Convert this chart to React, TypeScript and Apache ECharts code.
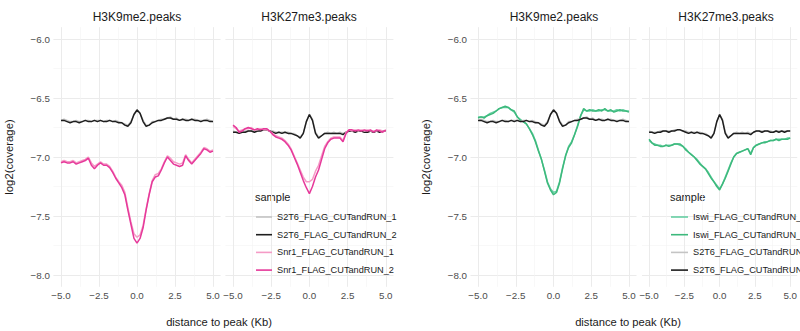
import React, { useEffect, useRef } from "react";
import * as echarts from "echarts";

// distance to peak (Kb)
const DIST = [
  -5.0, -4.8, -4.6, -4.4, -4.2, -4.0, -3.8, -3.6, -3.4, -3.2,
  -3.0, -2.8, -2.6, -2.4, -2.2, -2.0, -1.8, -1.6, -1.4, -1.2,
  -1.0, -0.8, -0.6, -0.4, -0.2, 0.0, 0.2, 0.4, 0.6, 0.8,
  1.0, 1.2, 1.4, 1.6, 1.8, 2.0, 2.2, 2.4, 2.6, 2.8,
  3.0, 3.2, 3.4, 3.6, 3.8, 4.0, 4.2, 4.4, 4.6, 4.8, 5.0,
];

const X_MAJOR = [-5, -2.5, 0, 2.5, 5];
const X_MINOR = [-3.75, -1.25, 1.25, 3.75];
const Y_MAJOR = [-8, -7.5, -7, -6.5, -6];
const Y_MINOR = [-7.75, -7.25, -6.75, -6.25];

const FACETS = ["H3K9me2.peaks", "H3K27me3.peaks"];

// S2T6 control, H3K9me2 peaks
const S2T6_K9_1 = [
  -6.69, -6.68, -6.69, -6.70, -6.70, -6.69, -6.70, -6.70, -6.69, -6.69,
  -6.70, -6.69, -6.69, -6.69, -6.70, -6.69, -6.69, -6.70, -6.69, -6.70,
  -6.71, -6.72, -6.73, -6.70, -6.64, -6.61, -6.63, -6.69, -6.73, -6.73,
  -6.70, -6.70, -6.69, -6.68, -6.68, -6.67, -6.66, -6.68, -6.67, -6.69,
  -6.68, -6.68, -6.69, -6.68, -6.68, -6.69, -6.69, -6.69, -6.68, -6.69, -6.70,
];
const S2T6_K9_2 = [
  -6.69, -6.69, -6.70, -6.71, -6.70, -6.70, -6.71, -6.70, -6.69, -6.70,
  -6.70, -6.69, -6.70, -6.69, -6.70, -6.70, -6.69, -6.70, -6.70, -6.71,
  -6.71, -6.73, -6.74, -6.71, -6.64, -6.60, -6.63, -6.70, -6.74, -6.73,
  -6.71, -6.70, -6.69, -6.69, -6.68, -6.67, -6.67, -6.68, -6.68, -6.69,
  -6.68, -6.69, -6.69, -6.68, -6.69, -6.69, -6.70, -6.69, -6.69, -6.70, -6.70,
];
// S2T6 control, H3K27me3 peaks
const S2T6_K27_1 = [
  -6.78, -6.79, -6.79, -6.79, -6.78, -6.78, -6.78, -6.78, -6.78, -6.77,
  -6.77, -6.77, -6.78, -6.78, -6.79, -6.79, -6.79, -6.79, -6.79, -6.80,
  -6.80, -6.82, -6.83, -6.80, -6.70, -6.64, -6.68, -6.79, -6.83, -6.82,
  -6.80, -6.79, -6.80, -6.79, -6.80, -6.79, -6.80, -6.79, -6.78, -6.78,
  -6.78, -6.78, -6.78, -6.78, -6.79, -6.78, -6.78, -6.78, -6.78, -6.78, -6.78,
];
const S2T6_K27_2 = [
  -6.79, -6.79, -6.80, -6.79, -6.79, -6.78, -6.78, -6.79, -6.78, -6.78,
  -6.77, -6.77, -6.78, -6.79, -6.80, -6.79, -6.80, -6.79, -6.80, -6.80,
  -6.81, -6.82, -6.84, -6.80, -6.70, -6.64, -6.69, -6.80, -6.84, -6.82,
  -6.80, -6.80, -6.80, -6.80, -6.80, -6.80, -6.81, -6.79, -6.78, -6.78,
  -6.79, -6.78, -6.78, -6.79, -6.79, -6.78, -6.79, -6.78, -6.79, -6.78, -6.78,
];
// Snr1
const SNR1_K9_1 = [
  -7.04, -7.03, -7.04, -7.04, -7.03, -7.05, -7.04, -7.03, -7.02, -7.00,
  -7.05, -7.08, -7.06, -7.04, -7.06, -7.06, -7.08, -7.12, -7.17, -7.21,
  -7.24, -7.30, -7.43, -7.55, -7.65, -7.68, -7.66, -7.58, -7.44, -7.31,
  -7.20, -7.15, -7.14, -7.10, -7.04, -6.99, -7.01, -7.04, -7.05, -7.06,
  -7.05, -6.98, -7.02, -7.05, -7.02, -6.99, -6.96, -6.92, -6.93, -6.95, -6.94,
];
const SNR1_K9_2 = [
  -7.05, -7.04, -7.05, -7.05, -7.04, -7.06, -7.05, -7.04, -7.03, -7.01,
  -7.07, -7.10, -7.07, -7.05, -7.07, -7.07, -7.09, -7.13, -7.18, -7.22,
  -7.26, -7.32, -7.45, -7.57, -7.69, -7.73, -7.69, -7.60, -7.45, -7.32,
  -7.21, -7.17, -7.16, -7.11, -7.05, -7.00, -7.03, -7.06, -7.07, -7.08,
  -7.07, -6.99, -7.03, -7.06, -7.03, -7.00, -6.97, -6.93, -6.94, -6.96, -6.95,
];
const SNR1_K27_1 = [
  -6.74, -6.76, -6.78, -6.77, -6.76, -6.76, -6.75, -6.77, -6.77, -6.76,
  -6.77, -6.77, -6.78, -6.80, -6.82, -6.83, -6.84, -6.86, -6.89, -6.93,
  -6.99, -7.05, -7.11, -7.17, -7.21, -7.21, -7.19, -7.12, -7.07, -6.99,
  -6.91, -6.87, -6.84, -6.83, -6.83, -6.83, -6.86, -6.79, -6.77, -6.78,
  -6.77, -6.78, -6.77, -6.78, -6.77, -6.78, -6.78, -6.78, -6.77, -6.78, -6.78,
];
const SNR1_K27_2 = [
  -6.73, -6.75, -6.79, -6.78, -6.76, -6.75, -6.76, -6.77, -6.76, -6.77,
  -6.76, -6.76, -6.78, -6.81, -6.83, -6.84, -6.85, -6.87, -6.90, -6.94,
  -7.00, -7.06, -7.13, -7.20, -7.26, -7.31, -7.25, -7.17, -7.11, -7.02,
  -6.93, -6.88, -6.85, -6.84, -6.84, -6.84, -6.87, -6.80, -6.77, -6.77,
  -6.78, -6.77, -6.78, -6.77, -6.78, -6.77, -6.79, -6.77, -6.78, -6.79, -6.77,
];
// Iswi
const ISWI_K9_1 = [
  -6.66, -6.66, -6.66, -6.65, -6.63, -6.62, -6.61, -6.59, -6.58, -6.58,
  -6.58, -6.60, -6.62, -6.66, -6.68, -6.70, -6.72, -6.76, -6.80, -6.86,
  -6.94, -7.02, -7.11, -7.21, -7.27, -7.30, -7.29, -7.21, -7.09, -6.99,
  -6.91, -6.87, -6.81, -6.73, -6.65, -6.60, -6.61, -6.61, -6.60, -6.61,
  -6.61, -6.60, -6.60, -6.61, -6.61, -6.61, -6.60, -6.61, -6.60, -6.61, -6.61,
];
const ISWI_K9_2 = [
  -6.67, -6.66, -6.67, -6.65, -6.64, -6.63, -6.61, -6.59, -6.58, -6.57,
  -6.58, -6.60, -6.61, -6.66, -6.69, -6.70, -6.72, -6.76, -6.81, -6.87,
  -6.95, -7.02, -7.12, -7.22, -7.28, -7.32, -7.30, -7.22, -7.10, -6.99,
  -6.92, -6.88, -6.81, -6.74, -6.65, -6.59, -6.61, -6.60, -6.61, -6.61,
  -6.60, -6.61, -6.59, -6.61, -6.60, -6.62, -6.61, -6.60, -6.61, -6.61, -6.62,
];
const ISWI_K27_1 = [
  -6.86, -6.88, -6.89, -6.90, -6.90, -6.91, -6.90, -6.90, -6.90, -6.89,
  -6.89, -6.90, -6.91, -6.93, -6.96, -6.98, -7.00, -7.02, -7.05, -7.08,
  -7.10, -7.13, -7.17, -7.21, -7.24, -7.27, -7.23, -7.17, -7.11, -7.05,
  -7.00, -6.97, -6.96, -6.95, -6.94, -6.93, -6.97, -6.92, -6.90, -6.89,
  -6.88, -6.87, -6.87, -6.86, -6.86, -6.85, -6.85, -6.85, -6.85, -6.84, -6.84,
];
const ISWI_K27_2 = [
  -6.85, -6.88, -6.90, -6.90, -6.91, -6.91, -6.90, -6.91, -6.90, -6.89,
  -6.89, -6.89, -6.91, -6.94, -6.96, -6.98, -7.00, -7.03, -7.06, -7.08,
  -7.10, -7.14, -7.18, -7.21, -7.25, -7.28, -7.23, -7.18, -7.12, -7.06,
  -7.00, -6.97, -6.96, -6.95, -6.94, -6.93, -6.98, -6.92, -6.90, -6.89,
  -6.88, -6.88, -6.87, -6.86, -6.86, -6.85, -6.86, -6.85, -6.85, -6.85, -6.84,
];

const N_S2T6_1 = "S2T6_FLAG_CUTandRUN_1";
const N_S2T6_2 = "S2T6_FLAG_CUTandRUN_2";
const N_SNR1_1 = "Snr1_FLAG_CUTandRUN_1";
const N_SNR1_2 = "Snr1_FLAG_CUTandRUN_2";
const N_ISWI_1 = "Iswi_FLAG_CUTandRUN_1";
const N_ISWI_2 = "Iswi_FLAG_CUTandRUN_2";

const COLORS: Record<string, string> = {
  [N_S2T6_1]: "#C4C4C4",
  [N_S2T6_2]: "#1E1E1E",
  [N_SNR1_1]: "#F59BC6",
  [N_SNR1_2]: "#E6399A",
  [N_ISWI_1]: "#66CFA3",
  [N_ISWI_2]: "#3DB97C",
};

// panels: grid index -> list of [name, values]
const PANEL_SERIES: [string, number[]][][] = [
  [[N_S2T6_1, S2T6_K9_1], [N_S2T6_2, S2T6_K9_2], [N_SNR1_1, SNR1_K9_1], [N_SNR1_2, SNR1_K9_2]],
  [[N_S2T6_1, S2T6_K27_1], [N_S2T6_2, S2T6_K27_2], [N_SNR1_1, SNR1_K27_1], [N_SNR1_2, SNR1_K27_2]],
  [[N_ISWI_1, ISWI_K9_1], [N_ISWI_2, ISWI_K9_2], [N_S2T6_1, S2T6_K9_1], [N_S2T6_2, S2T6_K9_2]],
  [[N_ISWI_1, ISWI_K27_1], [N_ISWI_2, ISWI_K27_2], [N_S2T6_1, S2T6_K27_1], [N_S2T6_2, S2T6_K27_2]],
];

const FONT = "'Liberation Sans', Arial, Helvetica, sans-serif";
const fmt = (v: number) => v.toFixed(1).replace("-", "\u2212");

export default function App() {
  const ref = useRef<HTMLDivElement>(null);
  useEffect(() => {
    if (!ref.current) return;
    const chart = echarts.init(ref.current, null, { renderer: "svg" });
    const grids = [
      { left: 53.4, top: 27.2, width: 167.2, height: 259.6 },
      { left: 225.4, top: 27.2, width: 168, height: 259.6 },
      { left: 470.5, top: 27.2, width: 166, height: 259.6 },
      { left: 642, top: 27.2, width: 168, height: 259.6 },
    ];
    const xAxis: any[] = [];
    const yAxis: any[] = [];
    grids.forEach((_, g) => {
      xAxis.push({
        type: "value", gridIndex: g, min: -5.5, max: 5.5,
        axisLine: { show: false },
        axisTick: { show: false, customValues: X_MAJOR },
        axisLabel: { customValues: X_MAJOR, formatter: fmt, margin: 4, color: "#4D4D4D", fontSize: 9.8, fontFamily: FONT },
        splitLine: { show: true, lineStyle: { color: "#EBEBEB", width: 1 } },
      });
      xAxis.push({
        type: "value", gridIndex: g, min: -5.5, max: 5.5,
        axisLine: { show: false },
        axisTick: { show: false, customValues: X_MINOR },
        axisLabel: { show: false, customValues: X_MINOR },
        splitLine: { show: true, lineStyle: { color: "#F4F4F4", width: 0.6 } },
      });
      const first = g === 0 || g === 2;
      yAxis.push({
        type: "value", gridIndex: g, min: -8.1, max: -5.9,
        axisLine: { show: false },
        axisTick: { show: false, customValues: Y_MAJOR },
        axisLabel: { show: first, customValues: Y_MAJOR, formatter: fmt, margin: 3.5, color: "#4D4D4D", fontSize: 9.8, fontFamily: FONT },
        splitLine: { show: true, lineStyle: { color: "#EBEBEB", width: 1 } },
        name: first ? "log2(coverage)" : "",
        nameLocation: "middle", nameGap: 39, nameRotate: 90,
        nameTextStyle: { fontSize: 11.3, color: "#1A1A1A", fontFamily: FONT },
      });
      yAxis.push({
        type: "value", gridIndex: g, min: -8.1, max: -5.9,
        axisLine: { show: false },
        axisTick: { show: false, customValues: Y_MINOR },
        axisLabel: { show: false, customValues: Y_MINOR },
        splitLine: { show: true, lineStyle: { color: "#F4F4F4", width: 0.6 } },
      });
    });
    const series: any[] = [];
    PANEL_SERIES.forEach((list, g) => {
      list.forEach(([name, vals]) => {
        series.push({
          type: "line", name, xAxisIndex: 2 * g, yAxisIndex: 2 * g,
          data: DIST.map((d, i) => [d, vals[i]]),
          showSymbol: false, symbol: "none",
          itemStyle: { color: COLORS[name] },
          lineStyle: { color: COLORS[name], width: 1.5 },
          z: 3,
        });
      });
    });
    const legendBase = {
      orient: "vertical", padding: 0, itemWidth: 16, itemHeight: 1.6, itemGap: 5.7,
      icon: "rect", selectedMode: false,
      textStyle: { fontSize: 9.2, color: "#1A1A1A", fontFamily: FONT, lineHeight: 12 },
    };
    const text = (t: string, x: number, y: number, size: number, align = "center", rot = 0) => ({
      type: "text", x, y, rotation: rot,
      style: { text: t, fontSize: size, fontFamily: FONT, fill: "#1A1A1A", align, verticalAlign: "middle" },
    });
    chart.setOption({
      animation: false,
      backgroundColor: "#FFFFFF",
      grid: grids.map((g) => ({ ...g, containLabel: false })),
      xAxis, yAxis, series,
      legend: [
        { ...legendBase, left: 256, top: 211, data: [N_S2T6_1, N_S2T6_2, N_SNR1_1, N_SNR1_2] },
        { ...legendBase, left: 671, top: 211, itemWidth: 17, data: [N_ISWI_1, N_ISWI_2, N_S2T6_1, N_S2T6_2] },
      ],
      graphic: [
        text(FACETS[0], 137, 17, 12),
        text(FACETS[1], 309, 17, 12),
        text(FACETS[0], 554, 17, 12),
        text(FACETS[1], 726, 17, 12),
        text("distance to peak (Kb)", 219, 322, 11.2),
        text("distance to peak (Kb)", 628, 322, 11.2),
        text("sample", 255, 197, 11, "left"),
        text("sample", 670, 197, 11, "left"),
      ],
    });
    return () => chart.dispose();
  }, []);
  return (
    <div
      ref={ref}
      style={{ position: "fixed", left: 0, top: 0, width: 800, height: 331, background: "#fff" }}
    />
  );
}
